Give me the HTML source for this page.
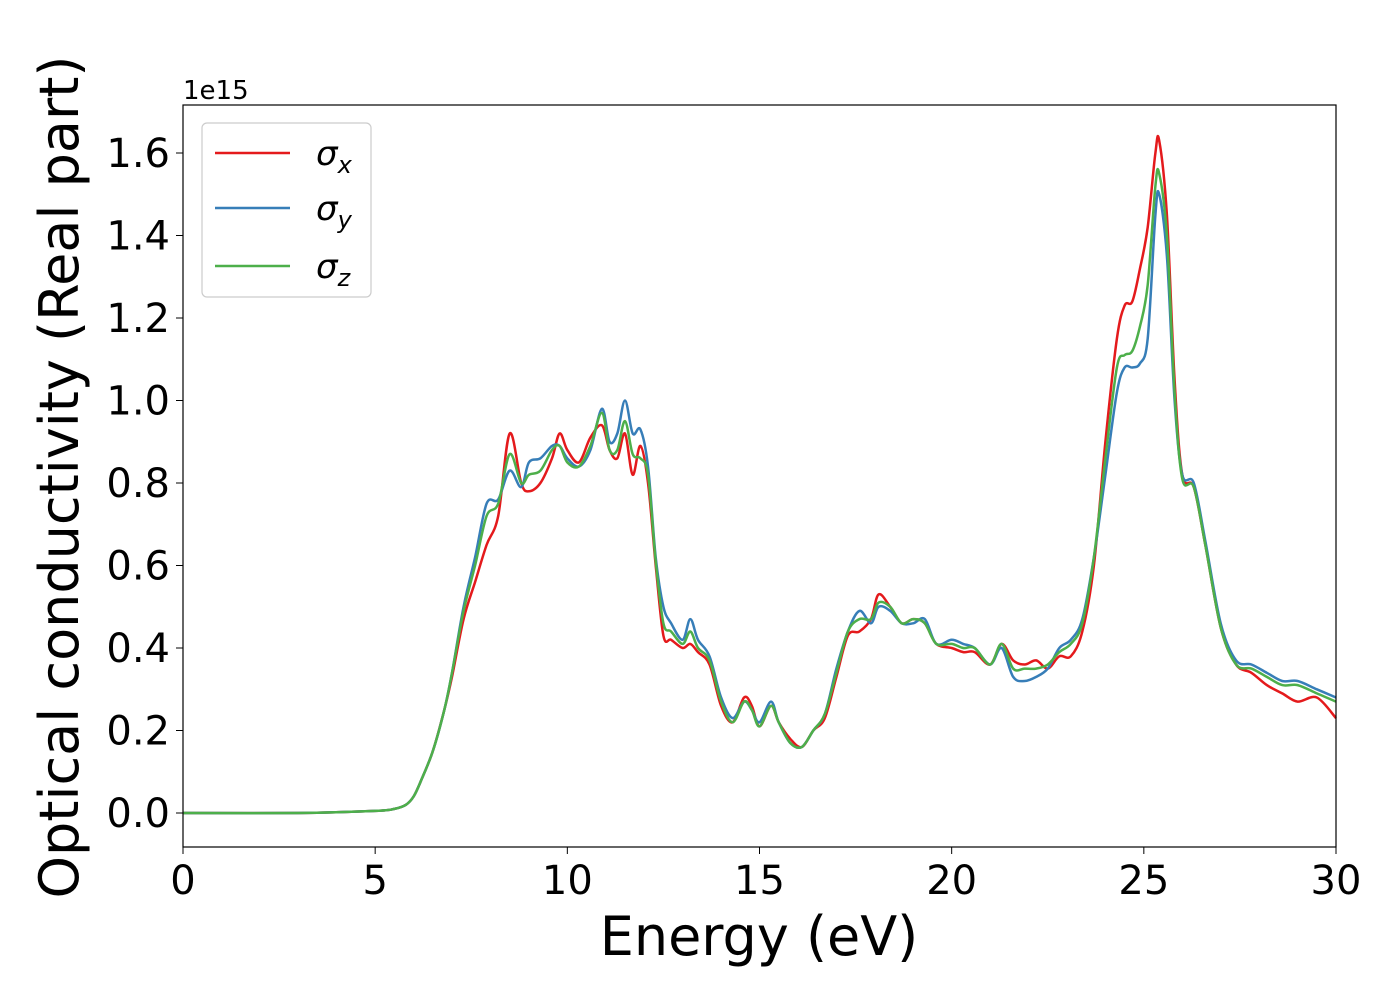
<!DOCTYPE html>
<html><head><meta charset="utf-8"><style>
body{margin:0;background:#fff;font-family:"Liberation Sans","DejaVu Sans",sans-serif}
svg text{font-family:"DejaVu Sans","Liberation Sans",sans-serif}
</style></head><body>
<svg id="chart" width="1400" height="1000" viewBox="0 0 1400 1000" xmlns="http://www.w3.org/2000/svg">
<rect width="1400" height="1000" fill="#fff"/>
<g id="plot"></g>
<rect x="183" y="105" width="1153" height="742" fill="none" stroke="#000" stroke-width="1.2"/>
<g id="ticks"></g>
<text x="183" y="99" font-size="26">1e15</text>
<text x="759" y="955" font-size="54" text-anchor="middle">Energy (eV)</text>
<text transform="translate(78,477) rotate(-90)" font-size="54" text-anchor="middle">Optical conductivity (Real part)</text>
<g>
<rect x="202" y="123" width="169" height="174" rx="5" fill="#fff" fill-opacity="0.8" stroke="#ccc" stroke-width="1.2"/>
<g><line x1="215" y1="153" x2="290" y2="153" stroke="#e41a1c" stroke-width="2.5"/><text x="316" y="165" font-size="34" font-style="italic">σ<tspan font-size="24" dy="8">x</tspan></text></g>
<g><line x1="215" y1="208" x2="290" y2="208" stroke="#377eb8" stroke-width="2.5"/><text x="316" y="220" font-size="34" font-style="italic">σ<tspan font-size="24" dy="8">y</tspan></text></g>
<g><line x1="215" y1="266" x2="290" y2="266" stroke="#4daf4a" stroke-width="2.5"/><text x="316" y="278" font-size="34" font-style="italic">σ<tspan font-size="24" dy="8">z</tspan></text></g>
</g>
</svg>
<script>
const energy=[0,3,5,5.5,5.8,6.0,6.2,6.5,6.8,7.0,7.3,7.6,7.9,8.2,8.5,8.8,9.0,9.3,9.6,9.8,10.0,10.3,10.6,10.9,11.1,11.3,11.5,11.7,11.9,12.1,12.3,12.5,12.7,13.0,13.2,13.4,13.7,14.0,14.3,14.6,14.8,15.0,15.3,15.5,15.8,16.1,16.4,16.7,17.0,17.3,17.6,17.9,18.1,18.4,18.7,19.0,19.3,19.6,20.0,20.3,20.6,21.0,21.3,21.6,21.9,22.2,22.5,22.8,23.1,23.4,23.7,24.0,24.3,24.5,24.7,24.9,25.1,25.3,25.4,25.6,25.8,26.0,26.3,26.6,27.0,27.4,27.8,28.2,28.6,29.0,29.5,30];
const sigmaX=[0,0,0.005,0.01,0.02,0.04,0.08,0.15,0.25,0.33,0.47,0.56,0.65,0.72,0.92,0.8,0.78,0.80,0.86,0.92,0.88,0.85,0.91,0.94,0.88,0.86,0.92,0.82,0.89,0.8,0.6,0.43,0.42,0.4,0.41,0.39,0.36,0.26,0.22,0.28,0.26,0.21,0.26,0.22,0.18,0.16,0.2,0.23,0.33,0.43,0.44,0.47,0.53,0.5,0.46,0.47,0.46,0.41,0.40,0.39,0.39,0.36,0.41,0.37,0.36,0.37,0.35,0.38,0.38,0.44,0.6,0.9,1.15,1.23,1.24,1.32,1.42,1.6,1.63,1.45,1.05,0.82,0.79,0.65,0.45,0.36,0.34,0.31,0.29,0.27,0.28,0.23];
const sigmaY=[0,0,0.005,0.01,0.02,0.04,0.08,0.15,0.25,0.34,0.5,0.62,0.75,0.76,0.83,0.79,0.85,0.86,0.89,0.89,0.86,0.84,0.88,0.98,0.9,0.92,1.0,0.92,0.93,0.84,0.62,0.5,0.46,0.42,0.47,0.42,0.38,0.28,0.23,0.27,0.25,0.22,0.27,0.22,0.17,0.16,0.2,0.24,0.35,0.44,0.49,0.46,0.5,0.49,0.46,0.46,0.47,0.41,0.42,0.41,0.40,0.36,0.40,0.33,0.32,0.33,0.35,0.4,0.42,0.47,0.62,0.82,1.02,1.08,1.08,1.09,1.15,1.45,1.5,1.35,1.0,0.82,0.8,0.66,0.46,0.37,0.36,0.34,0.32,0.32,0.3,0.28];
const sigmaZ=[0,0,0.005,0.01,0.02,0.04,0.08,0.15,0.25,0.34,0.49,0.6,0.72,0.75,0.87,0.8,0.82,0.83,0.88,0.89,0.85,0.84,0.89,0.97,0.88,0.88,0.95,0.87,0.86,0.82,0.61,0.46,0.44,0.41,0.44,0.40,0.37,0.27,0.22,0.27,0.25,0.21,0.26,0.22,0.17,0.16,0.2,0.24,0.34,0.44,0.47,0.47,0.51,0.5,0.46,0.47,0.46,0.41,0.41,0.40,0.40,0.36,0.41,0.35,0.35,0.35,0.36,0.39,0.41,0.46,0.62,0.86,1.08,1.11,1.12,1.18,1.28,1.52,1.55,1.4,1.02,0.81,0.79,0.65,0.45,0.36,0.35,0.33,0.31,0.31,0.29,0.27];
const xTicks=[0,5,10,15,20,25,30];
const yTicks=[0.0,0.2,0.4,0.6,0.8,1.0,1.2,1.4,1.6];
const NS="http://www.w3.org/2000/svg";
const xs=e=>183+e*(1153/30);
const ys=v=>813-v*412.5;
function pathFor(vals){
  const p=energy.map((e,i)=>[xs(e),ys(vals[i])]);
  let d="M"+p[0][0]+","+p[0][1];
  for(let i=0;i<p.length-1;i++){
    const p0=p[Math.max(0,i-1)],p1=p[i],p2=p[i+1],p3=p[Math.min(p.length-1,i+2)];
    const c1=[p1[0]+(p2[0]-p0[0])/6,p1[1]+(p2[1]-p0[1])/6];
    const c2=[p2[0]-(p3[0]-p1[0])/6,p2[1]-(p3[1]-p1[1])/6];
    d+=" C"+c1[0].toFixed(1)+","+c1[1].toFixed(1)+" "+c2[0].toFixed(1)+","+c2[1].toFixed(1)+" "+p2[0].toFixed(1)+","+p2[1].toFixed(1);
  }
  return d;
}
const plot=document.getElementById("plot");
[[sigmaX,"#e41a1c","series-sigma-x"],[sigmaY,"#377eb8","series-sigma-y"],[sigmaZ,"#4daf4a","series-sigma-z"]].forEach(([v,c,n])=>{
  const el=document.createElementNS(NS,"path");
  el.setAttribute("d",pathFor(v));el.setAttribute("fill","none");el.setAttribute("stroke",c);el.setAttribute("stroke-width","2.5");
  
  
  plot.appendChild(el);
});
const tg=document.getElementById("ticks");
xTicks.forEach(t=>{
  const l=document.createElementNS(NS,"line");
  l.setAttribute("x1",xs(t));l.setAttribute("x2",xs(t));l.setAttribute("y1",847);l.setAttribute("y2",854);l.setAttribute("stroke","#000");
  
  
  tg.appendChild(l);
  const tx=document.createElementNS(NS,"text");
  tx.setAttribute("x",xs(t));tx.setAttribute("y",894);tx.setAttribute("font-size","40");tx.setAttribute("text-anchor","middle");
  tx.textContent=t;
  
  
  tg.appendChild(tx);
});
yTicks.forEach(t=>{
  const l=document.createElementNS(NS,"line");
  l.setAttribute("x1",176);l.setAttribute("x2",183);l.setAttribute("y1",ys(t));l.setAttribute("y2",ys(t));l.setAttribute("stroke","#000");
  
  
  tg.appendChild(l);
  const tx=document.createElementNS(NS,"text");
  tx.setAttribute("x",170);tx.setAttribute("y",ys(t)+14);tx.setAttribute("font-size","40");tx.setAttribute("text-anchor","end");
  tx.textContent=t.toFixed(1);
  
  
  tg.appendChild(tx);
});
</script>
</body></html>
